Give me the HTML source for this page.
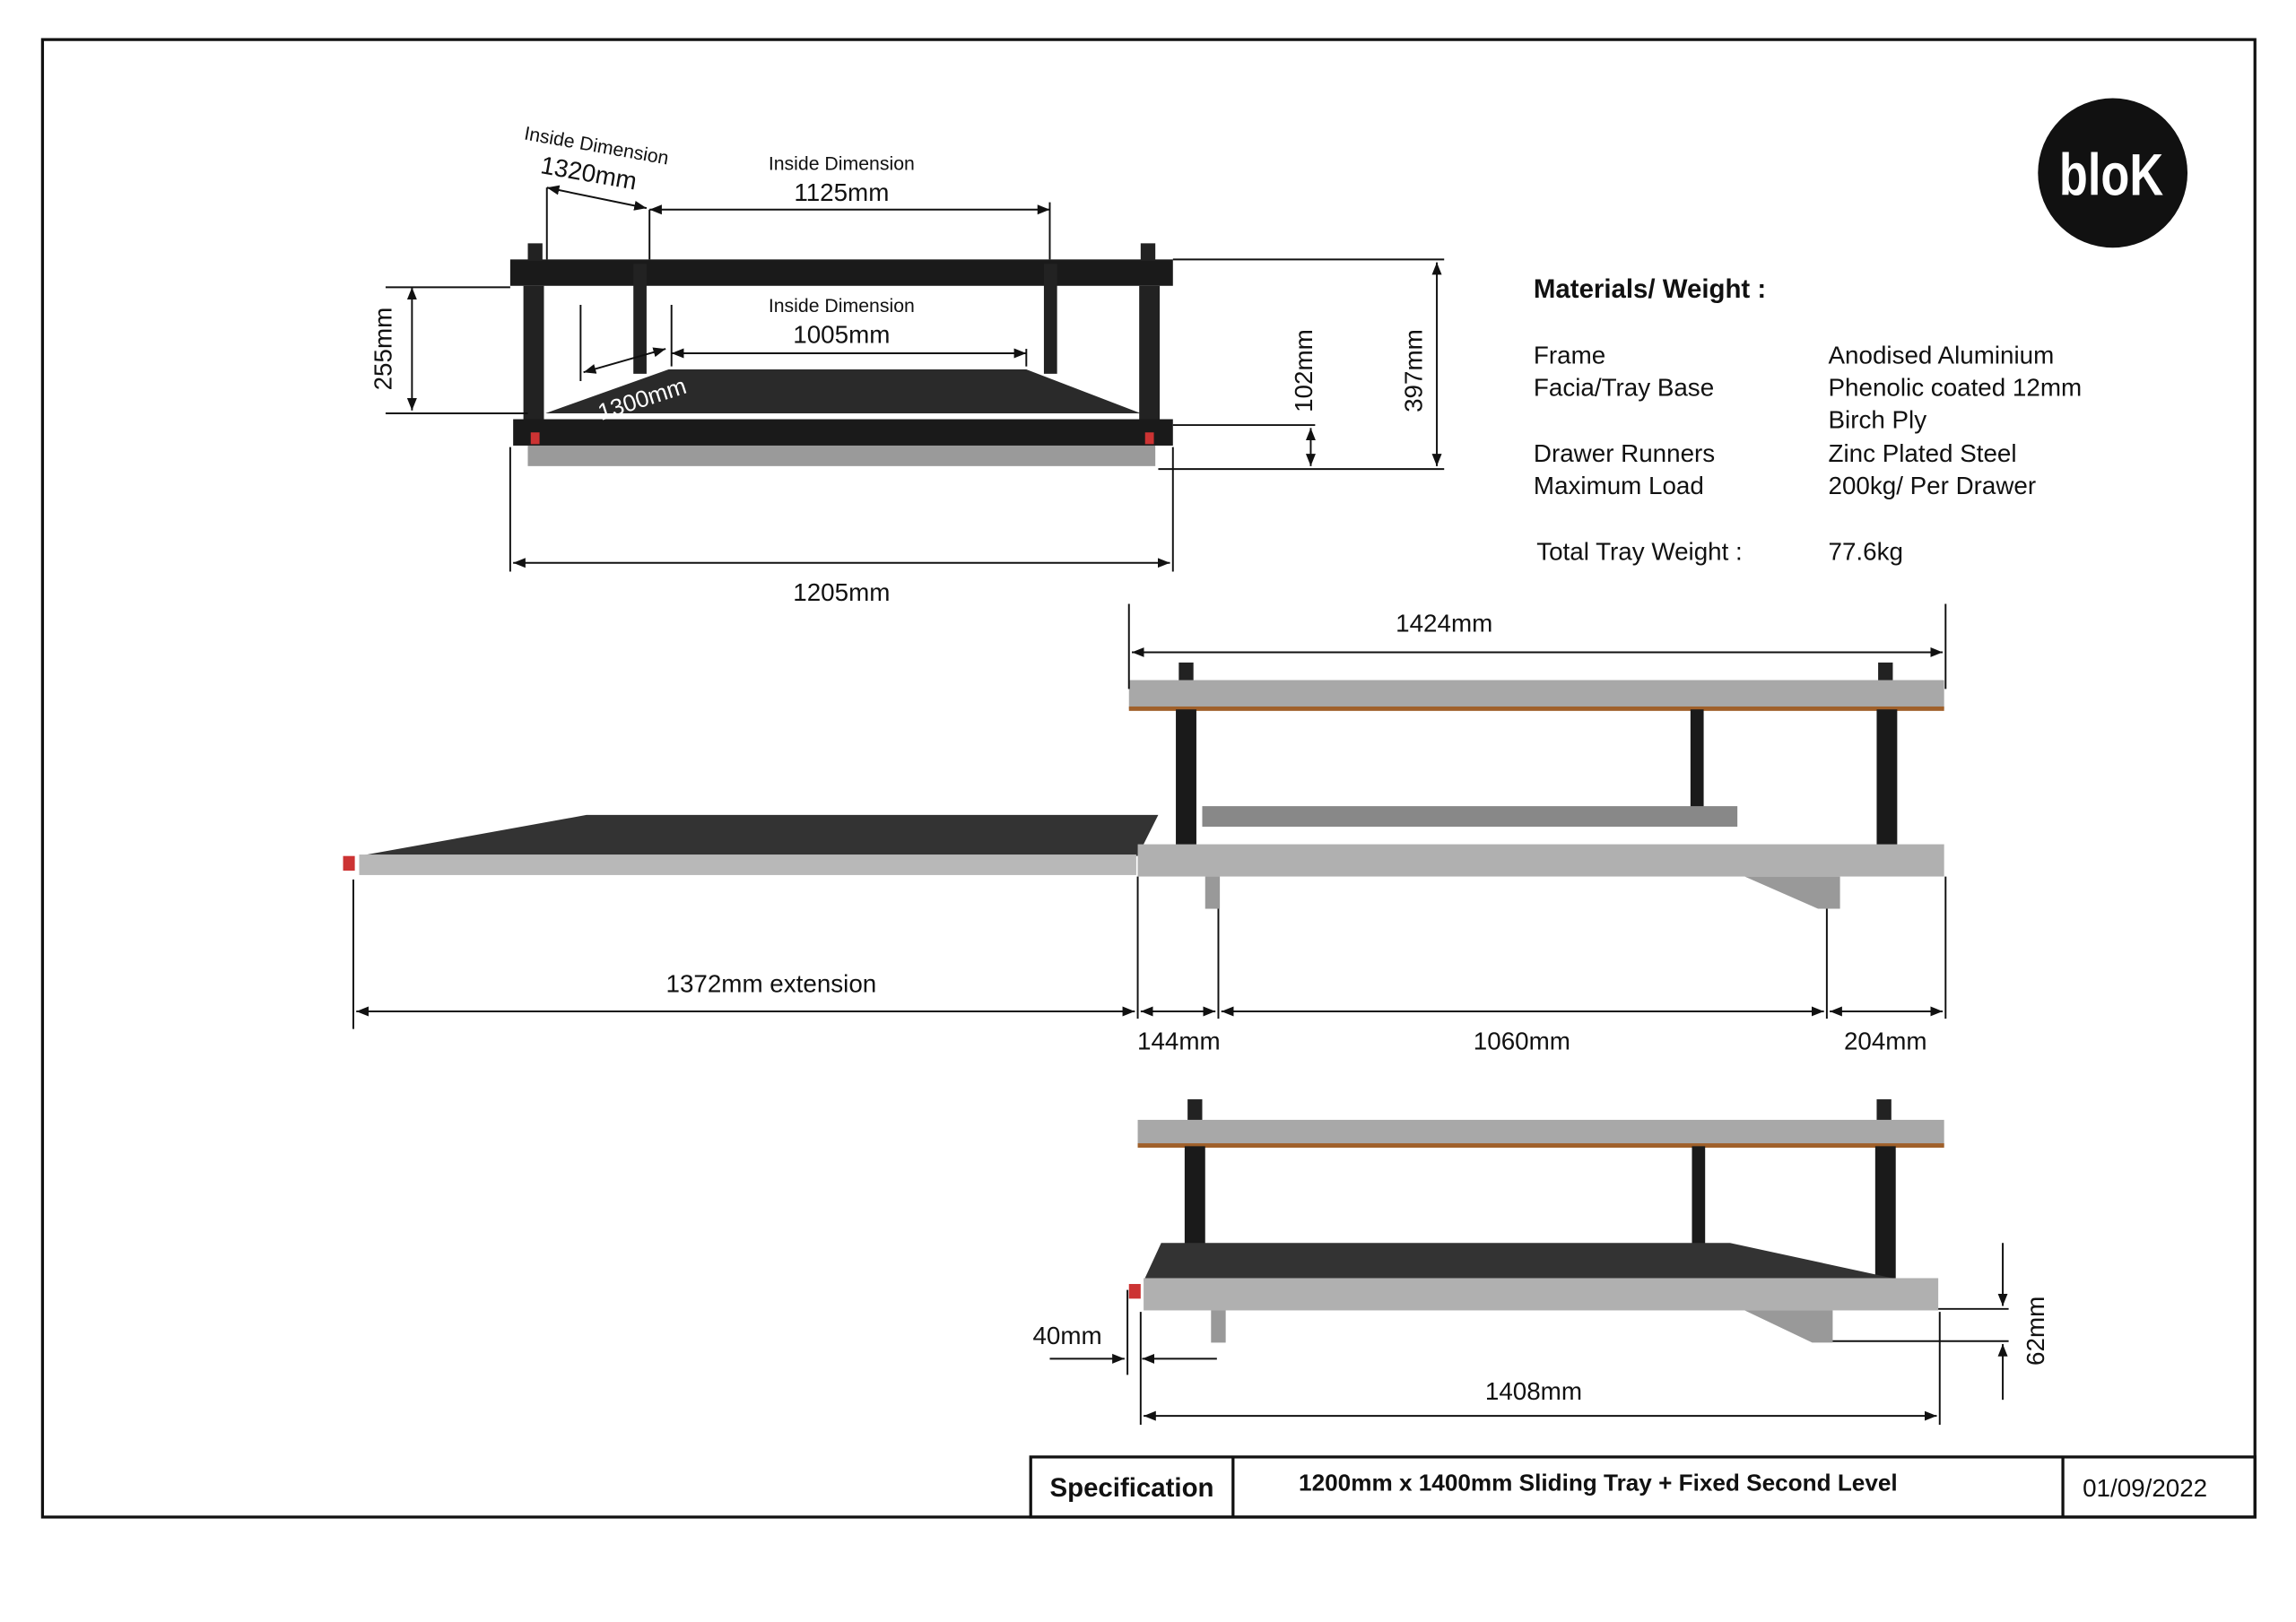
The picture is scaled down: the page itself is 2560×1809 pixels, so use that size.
<!DOCTYPE html>
<html><head><meta charset="utf-8"><style>
html,body{margin:0;padding:0;background:#fff}
svg{display:block}
text{font-family:"Liberation Sans",sans-serif;fill:#111}
</style></head><body>
<svg width="2560" height="1809" viewBox="0 0 1566 1106.6" preserveAspectRatio="none" xmlns="http://www.w3.org/2000/svg">
<defs>
<marker id="a" viewBox="0 0 10 10" refX="10" refY="5" markerWidth="7" markerHeight="7" orient="auto-start-reverse"><path d="M0,1 L10,5 L0,9 z" fill="#111"/></marker>
</defs>
<rect x="29" y="27" width="1509" height="1008" fill="none" stroke="#111" stroke-width="2"/>
<!-- logo -->
<circle cx="1441" cy="118" r="51" fill="#111"/>
<text x="1440" y="133" font-size="40" font-weight="bold" text-anchor="middle" style="fill:#fff" transform="translate(1440 0) scale(0.8 1) translate(-1440 0)">bloK</text>

<!-- Top view drawing -->
<g stroke="none">
<rect x="348" y="177" width="452" height="18" fill="#1a1a1a"/>
<rect x="357" y="195" width="14" height="95" fill="#222"/>
<rect x="777" y="195" width="14" height="95" fill="#222"/>
<rect x="432" y="180" width="9" height="75" fill="#222"/>
<rect x="712" y="180" width="9" height="75" fill="#222"/>
<polygon points="372,282 456,252 700,252 778,282" fill="#2a2a2a"/>
<rect x="350" y="286" width="450" height="18" fill="#1a1a1a"/>
<rect x="360" y="304" width="428" height="14" fill="#9a9a9a"/>
<rect x="360" y="166" width="10" height="12" fill="#222"/><rect x="778" y="166" width="10" height="12" fill="#222"/>
<rect x="362" y="295" width="6" height="8" fill="#c33"/><rect x="781" y="295" width="6" height="8" fill="#c33"/>
</g>
<g stroke="#111" stroke-width="1.2" fill="none">
<line x1="443" y1="143" x2="716" y2="143" marker-start="url(#a)" marker-end="url(#a)"/>
<line x1="443" y1="143" x2="443" y2="177"/><line x1="716" y1="138" x2="716" y2="177"/>
<line x1="373" y1="128" x2="441" y2="142" marker-start="url(#a)" marker-end="url(#a)"/>
<line x1="373" y1="128" x2="373" y2="177"/>
<line x1="458" y1="241" x2="700" y2="241" marker-start="url(#a)" marker-end="url(#a)"/>
<line x1="458" y1="208" x2="458" y2="250"/><line x1="700" y1="238" x2="700" y2="250"/>
<line x1="396" y1="208" x2="396" y2="260"/>
<line x1="398" y1="254" x2="454" y2="238" marker-start="url(#a)" marker-end="url(#a)"/>
<line x1="281" y1="196" x2="281" y2="280" marker-start="url(#a)" marker-end="url(#a)"/>
<line x1="263" y1="196" x2="348" y2="196"/><line x1="263" y1="282" x2="360" y2="282"/>
<line x1="800" y1="177" x2="985" y2="177"/><line x1="790" y1="320" x2="985" y2="320"/>
<line x1="980" y1="179" x2="980" y2="318" marker-start="url(#a)" marker-end="url(#a)"/>
<line x1="800" y1="290" x2="897" y2="290"/>
<line x1="894" y1="292" x2="894" y2="318" marker-start="url(#a)" marker-end="url(#a)"/>
<line x1="348" y1="305" x2="348" y2="390"/><line x1="800" y1="305" x2="800" y2="390"/>
<line x1="350" y1="384" x2="798" y2="384" marker-start="url(#a)" marker-end="url(#a)"/>
</g>
<text x="357" y="95" font-size="13" transform="rotate(10 357 95)">Inside Dimension</text>
<text x="368" y="118" font-size="17" transform="rotate(10 368 118)">1320mm</text>
<text x="574" y="116" font-size="13" text-anchor="middle">Inside Dimension</text>
<text x="574" y="137" font-size="17" text-anchor="middle">1125mm</text>
<text x="574" y="213" font-size="13" text-anchor="middle">Inside Dimension</text>
<text x="574" y="234" font-size="17" text-anchor="middle">1005mm</text>
<text x="410" y="287" font-size="16" style="fill:#fff" transform="rotate(-18 410 287)">1300mm</text>
<text x="267" y="238" font-size="17" text-anchor="middle" transform="rotate(-90 267 238)">255mm</text>
<text x="895" y="253" font-size="17" text-anchor="middle" transform="rotate(-90 895 253)">102mm</text>
<text x="970" y="253" font-size="17" text-anchor="middle" transform="rotate(-90 970 253)">397mm</text>
<text x="574" y="410" font-size="17" text-anchor="middle">1205mm</text>

<!-- materials -->
<g font-size="17">
<text x="1046" y="203" font-weight="bold" font-size="18">Materials/ Weight :</text>
<text x="1046" y="248">Frame</text><text x="1247" y="248">Anodised Aluminium</text>
<text x="1046" y="270">Facia/Tray Base</text><text x="1247" y="270">Phenolic coated 12mm</text>
<text x="1247" y="292">Birch Ply</text>
<text x="1046" y="315">Drawer Runners</text><text x="1247" y="315">Zinc Plated Steel</text>
<text x="1046" y="337">Maximum Load</text><text x="1247" y="337">200kg/ Per Drawer</text>
<text x="1048" y="382">Total Tray Weight :</text><text x="1247" y="382">77.6kg</text>
</g>

<!-- middle drawing -->
<g>
<rect x="770" y="464" width="556" height="20" fill="#a8a8a8"/>
<rect x="770" y="482" width="556" height="3" fill="#a0602a"/>
<rect x="802" y="484" width="14" height="96" fill="#1a1a1a"/>
<rect x="1280" y="484" width="14" height="96" fill="#1a1a1a"/>
<rect x="1153" y="484" width="9" height="70" fill="#1a1a1a"/>
<rect x="804" y="452" width="10" height="12" fill="#222"/><rect x="1281" y="452" width="10" height="12" fill="#222"/>
<rect x="820" y="550" width="365" height="14" fill="#888"/>
<polygon points="245,584 400,556 790,556 776,584" fill="#333"/>
<rect x="245" y="583" width="530" height="14" fill="#b8b8b8"/>
<rect x="776" y="576" width="550" height="22" fill="#b0b0b0"/>
<rect x="822" y="598" width="10" height="22" fill="#999"/>
<polygon points="1190,598 1255,598 1255,620 1240,620" fill="#999"/>
<rect x="234" y="584" width="8" height="10" fill="#c33"/>
</g>
<g stroke="#111" stroke-width="1.2" fill="none">
<line x1="770" y1="412" x2="770" y2="470"/><line x1="1327" y1="412" x2="1327" y2="470"/>
<line x1="772" y1="445" x2="1325" y2="445" marker-start="url(#a)" marker-end="url(#a)"/>
<line x1="241" y1="600" x2="241" y2="702"/><line x1="776" y1="598" x2="776" y2="695"/>
<line x1="831" y1="620" x2="831" y2="695"/><line x1="1246" y1="620" x2="1246" y2="695"/><line x1="1327" y1="598" x2="1327" y2="695"/>
<line x1="243" y1="690" x2="774" y2="690" marker-start="url(#a)" marker-end="url(#a)"/>
<line x1="778" y1="690" x2="829" y2="690" marker-start="url(#a)" marker-end="url(#a)"/>
<line x1="833" y1="690" x2="1244" y2="690" marker-start="url(#a)" marker-end="url(#a)"/>
<line x1="1248" y1="690" x2="1325" y2="690" marker-start="url(#a)" marker-end="url(#a)"/>
</g>
<text x="985" y="431" font-size="17" text-anchor="middle">1424mm</text>
<text x="526" y="677" font-size="17" text-anchor="middle">1372mm extension</text>
<text x="804" y="716" font-size="17" text-anchor="middle">144mm</text>
<text x="1038" y="716" font-size="17" text-anchor="middle">1060mm</text>
<text x="1286" y="716" font-size="17" text-anchor="middle">204mm</text>

<!-- bottom drawing -->
<g>
<rect x="776" y="764" width="550" height="18" fill="#a8a8a8"/>
<rect x="776" y="780" width="550" height="3" fill="#a0602a"/>
<rect x="808" y="782" width="14" height="95" fill="#1a1a1a"/>
<rect x="1279" y="782" width="14" height="95" fill="#1a1a1a"/>
<rect x="1154" y="782" width="9" height="70" fill="#1a1a1a"/>
<rect x="810" y="750" width="10" height="14" fill="#222"/><rect x="1280" y="750" width="10" height="14" fill="#222"/>
<polygon points="792,848 1180,848 1300,874 780,874" fill="#333"/>
<rect x="780" y="872" width="542" height="22" fill="#b0b0b0"/>
<rect x="826" y="894" width="10" height="22" fill="#999"/>
<polygon points="1190,894 1250,894 1250,916 1236,916" fill="#999"/>
<rect x="770" y="876" width="8" height="10" fill="#c33"/>
</g>
<g stroke="#111" stroke-width="1.2" fill="none">
<line x1="716" y1="927" x2="767" y2="927" marker-end="url(#a)"/>
<line x1="830" y1="927" x2="779" y2="927" marker-end="url(#a)"/>
<line x1="769" y1="880" x2="769" y2="938"/><line x1="778" y1="895" x2="778" y2="972"/>
<line x1="1323" y1="895" x2="1323" y2="972"/>
<line x1="780" y1="966" x2="1321" y2="966" marker-start="url(#a)" marker-end="url(#a)"/>
<line x1="1322" y1="893" x2="1370" y2="893"/><line x1="1250" y1="915" x2="1370" y2="915"/>
<line x1="1366" y1="848" x2="1366" y2="891" marker-end="url(#a)"/>
<line x1="1366" y1="955" x2="1366" y2="917" marker-end="url(#a)"/>
</g>
<text x="728" y="917" font-size="17" text-anchor="middle">40mm</text>
<text x="1046" y="955" font-size="17" text-anchor="middle">1408mm</text>
<text x="1394" y="908" font-size="17" text-anchor="middle" transform="rotate(-90 1394 908)">62mm</text>

<!-- title block -->
<g stroke="#111" stroke-width="2" fill="none">
<rect x="703" y="994" width="835" height="41"/>
<line x1="841" y1="994" x2="841" y2="1035"/><line x1="1407" y1="994" x2="1407" y2="1035"/>
</g>
<text x="772" y="1021" font-size="18" font-weight="bold" text-anchor="middle">Specification</text>
<text x="1090" y="1017" font-size="16" font-weight="bold" text-anchor="middle">1200mm x 1400mm Sliding Tray + Fixed Second Level</text>
<text x="1463" y="1021" font-size="17" text-anchor="middle">01/09/2022</text>
</svg>
</body></html>
